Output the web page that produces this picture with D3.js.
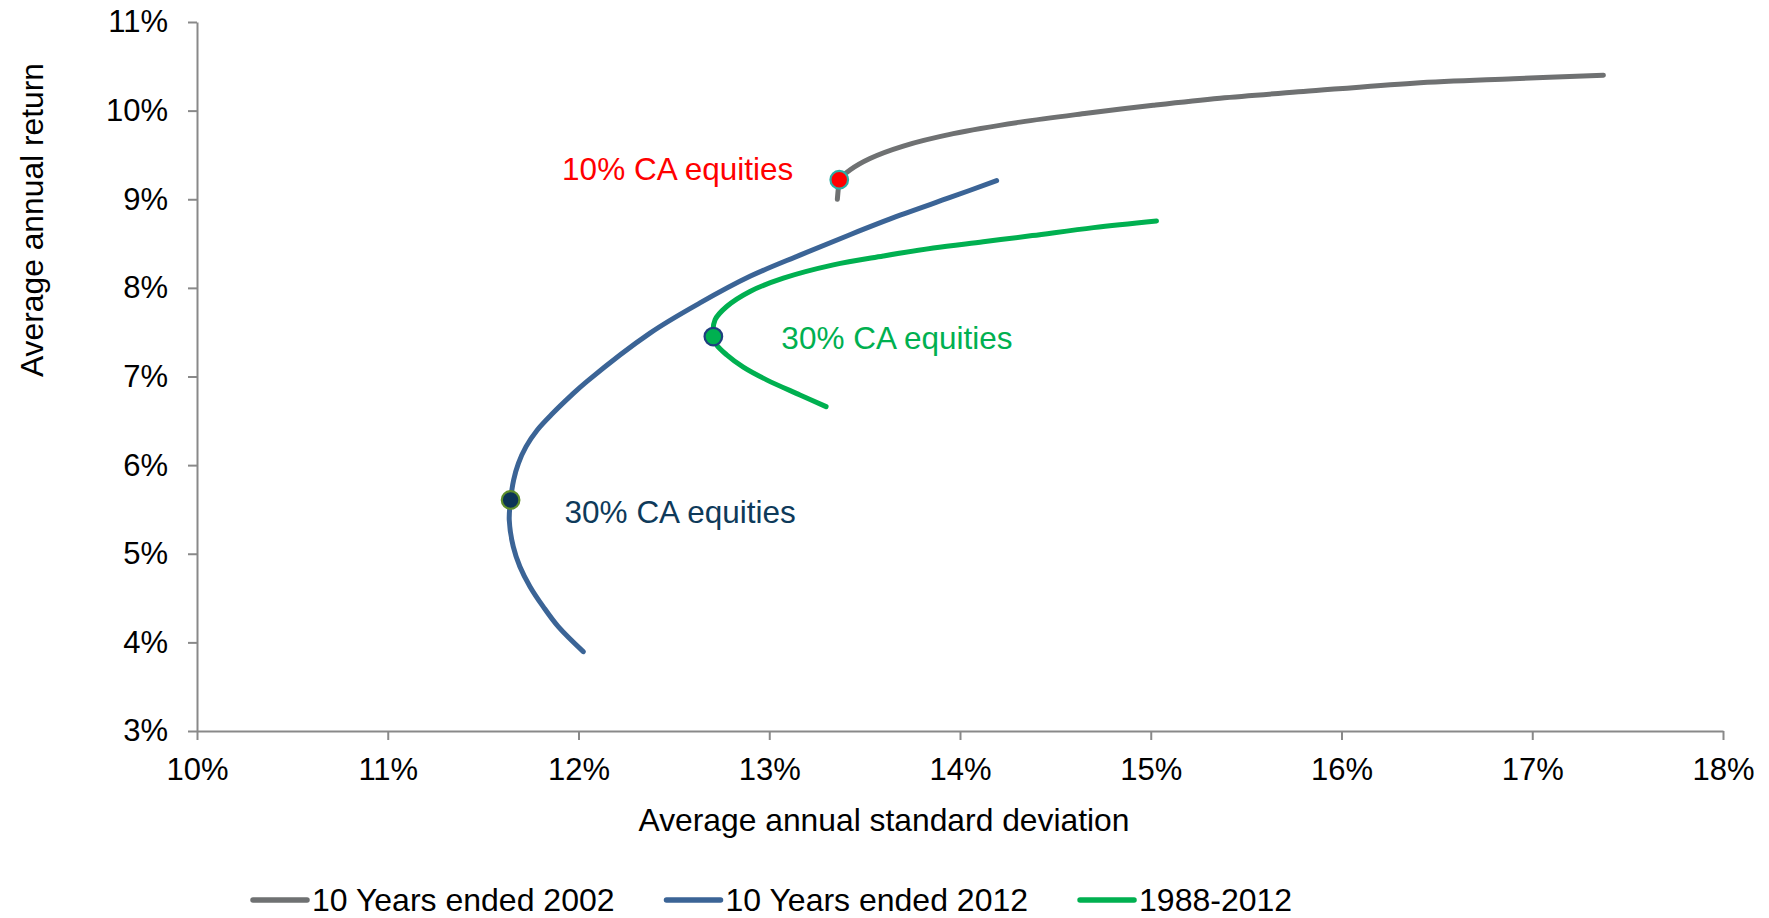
<!DOCTYPE html>
<html>
<head>
<meta charset="utf-8">
<script src="https://cdn.jsdelivr.net/npm/d3@7"></script>
<style>
  html, body { margin: 0; padding: 0; background: #ffffff; }
  svg { display: block; }
  text { font-family: "Liberation Sans", Arial, Helvetica, sans-serif; }
</style>
</head>
<body>
<svg id="chart" width="1769" height="918"></svg>
<script>
// ---------- data ----------
const xTicks = [10, 11, 12, 13, 14, 15, 16, 17, 18];
const yTicks = [3, 4, 5, 6, 7, 8, 9, 10, 11];
const xTitle = "Average annual standard deviation";
const yTitle = "Average annual return";

const seriesNames = ["10 Years ended 2002", "10 Years ended 2012", "1988-2012"];

// 10 Years ended 2002 (std dev %, return %)
const s2002X = [13.357, 13.362, 13.367, 13.423, 13.528, 13.703, 13.965, 14.315, 14.664, 15.013, 15.363, 15.80, 16.377, 16.901, 17.373];
const s2002Y = [9.00, 9.12, 9.22, 9.33, 9.46, 9.60, 9.74, 9.87, 9.97, 10.06, 10.14, 10.215, 10.31, 10.36, 10.40];

// 10 Years ended 2012
const s2012X = [12.025, 11.894, 11.815, 11.746, 11.693, 11.658, 11.637, 11.644, 11.660, 11.685, 11.725, 11.784, 11.865, 11.955, 12.043, 12.375, 12.637, 12.899, 13.161, 13.423, 13.686, 13.948, 14.192];
const s2012Y = [3.895, 4.177, 4.403, 4.629, 4.854, 5.080, 5.381, 5.607, 5.833, 6.021, 6.209, 6.397, 6.585, 6.773, 6.943, 7.49, 7.83, 8.13, 8.37, 8.60, 8.82, 9.02, 9.21];

// 1988-2012
const s1988X = [13.298, 13.161, 12.986, 12.864, 12.777, 12.724, 12.707, 12.716, 12.777, 12.899, 13.074, 13.336, 13.598, 13.860, 14.122, 14.379, 14.70, 15.03];
const s1988Y = [6.66, 6.792, 6.962, 7.105, 7.244, 7.357, 7.45, 7.64, 7.79, 7.96, 8.11, 8.26, 8.36, 8.45, 8.52, 8.59, 8.68, 8.755];

// highlighted portfolios
const markerX = [13.367, 11.644, 12.707];
const markerY = [9.22, 5.607, 7.45];
const markerLabels = ["10% CA equities", "30% CA equities", "30% CA equities"];

// ---------- styles ----------
const seriesColors = ["#6f7172", "#3b6496", "#00b050"];
const markerFill = ["#ff0000", "#0c3456", "#00b050"];
const markerStroke = ["#2aaea6", "#5e8f2c", "#1f3f7f"];
const labelColors = ["#ff0000", "#0e3a5a", "#00b050"];
// label offsets relative to marker (px): [dx, dy, anchor]
const labelOffsets = [[-46, 0, "end"], [54, 23, "start"], [68, 12, "start"]];

const svg = d3.select("#chart");
const plotLeft = 197, plotRight = 1723, plotTop = 22, plotBottom = 731;

const x = d3.scaleLinear().domain([10, 18]).range([plotLeft, plotRight]);
const y = d3.scaleLinear().domain([3, 11]).range([plotBottom, plotTop]);

const axisColor = "#898989";
const fontSize = 31;

// axes
const gx = svg.append("g").attr("transform", `translate(0,${plotBottom})`)
  .call(d3.axisBottom(x).tickValues(xTicks).tickFormat(d => d + "%")
    .tickSize(9).tickSizeOuter(0).tickPadding(18));
const gy = svg.append("g").attr("transform", `translate(${plotLeft},0)`)
  .call(d3.axisLeft(y).tickValues(yTicks).tickFormat(d => d + "%")
    .tickSize(9).tickSizeOuter(0).tickPadding(20));
[gx, gy].forEach(g => {
  g.select(".domain").attr("stroke", axisColor).attr("stroke-width", 2);
  g.selectAll(".tick line").attr("stroke", axisColor).attr("stroke-width", 2);
  g.selectAll(".tick text").attr("fill", "#000").style("font-size", fontSize + "px")
    .style("font-family", '"Liberation Sans", Arial, Helvetica, sans-serif');
});

// axis titles
svg.append("text").attr("x", 884).attr("y", 831).attr("text-anchor", "middle")
  .style("font-size", "31.8px").attr("fill", "#000").text(xTitle);
svg.append("text").attr("transform", "translate(43,220) rotate(-90)").attr("text-anchor", "middle")
  .style("font-size", "31.8px").attr("fill", "#000").text(yTitle);

// lines
const line = d3.line().x(d => x(d[0])).y(d => y(d[1])).curve(d3.curveCatmullRom.alpha(0.5));
const seriesData = [
  d3.zip(s2002X, s2002Y),
  d3.zip(s2012X, s2012Y),
  d3.zip(s1988X, s1988Y)
];
svg.append("g").selectAll("path").data(seriesData).join("path")
  .attr("d", line).attr("fill", "none")
  .attr("stroke", (d, i) => seriesColors[i]).attr("stroke-width", 5)
  .attr("stroke-linecap", "round").attr("stroke-linejoin", "round");

// markers
const markers = d3.zip(markerX, markerY);
svg.append("g").selectAll("circle").data(markers).join("circle")
  .attr("cx", d => x(d[0])).attr("cy", d => y(d[1])).attr("r", 8.8)
  .attr("fill", (d, i) => markerFill[i]).attr("stroke", (d, i) => markerStroke[i])
  .attr("stroke-width", 2.2);

// labels
svg.append("g").selectAll("text").data(markers).join("text")
  .attr("x", (d, i) => x(d[0]) + labelOffsets[i][0])
  .attr("y", (d, i) => y(d[1]) + labelOffsets[i][1])
  .attr("text-anchor", (d, i) => labelOffsets[i][2])
  .attr("fill", (d, i) => labelColors[i])
  .style("font-size", "31.5px")
  .text((d, i) => markerLabels[i]);

// legend
const legend = svg.append("g");
let lx = 253;
const ly = 900;
seriesNames.forEach((name, i) => {
  legend.append("line").attr("x1", lx).attr("x2", lx + 54).attr("y1", ly).attr("y2", ly)
    .attr("stroke", seriesColors[i]).attr("stroke-width", 5.5).attr("stroke-linecap", "round");
  const t = legend.append("text").attr("x", lx + 59).attr("y", ly + 11)
    .style("font-size", "32px").attr("fill", "#000").text(name);
  const w = t.node().getComputedTextLength();
  lx = lx + 59 + w + 52;
});
</script>
</body>
</html>
